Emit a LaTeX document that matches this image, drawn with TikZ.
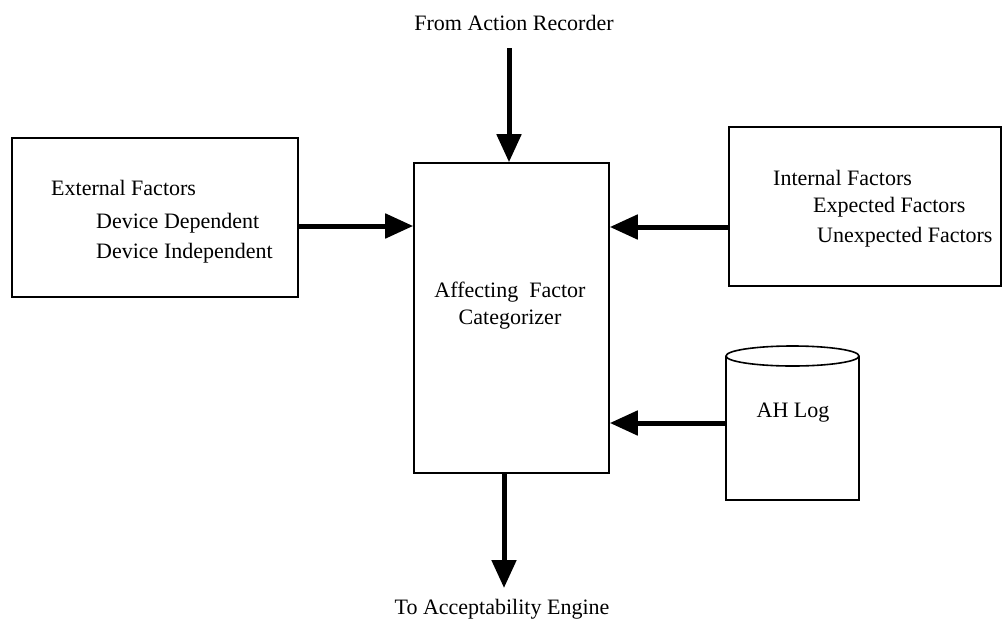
\documentclass[tikz,border=0pt]{standalone}
\usepackage{fontspec}
\setmainfont{Liberation Serif}
\usetikzlibrary{arrows.meta}
\begin{document}
\begin{tikzpicture}[x=1pt,y=-1pt,
  box/.style={draw,line width=1.6pt,inner sep=0pt},
  txt/.style={inner sep=0pt,font=\fontsize{22}{26}\selectfont},
  ltxt/.style={txt,anchor=west},
  flow/.style={line width=5pt,-{Triangle[length=28pt,width=24pt]}}]
\useasboundingbox (0,0) rectangle (1003,621);

% blocks
\node[box,minimum width=286pt,minimum height=159pt] (ext) at (155,217.5) {};
\node[box,minimum width=195pt,minimum height=310pt] (cat) at (511.5,318) {};
\node[box,minimum width=272pt,minimum height=159pt] (int) at (865,206.5) {};

% data log cylinder
\node[inner sep=0pt,minimum width=133pt,minimum height=154pt] (log) at (792.5,423) {};
\draw[line width=1.6pt,fill=white]
  (726,356) -- (726,500) -- (859,500) -- (859,356);
\draw[line width=1.6pt] (792.5,356) ellipse [x radius=66.5, y radius=10];

% texts
\node[ltxt] at (51,188) {External Factors};
\node[ltxt] at (96,223) {Device Dependent};
\node[ltxt] at (96,253) {Device Independent};
\node[ltxt] at (773,178) {Internal Factors};
\node[ltxt] at (813,207) {Expected Factors};
\node[ltxt] at (817,237) {Unexpected Factors};
\node[txt] at (510,292) {Affecting\ \ Factor};
\node[txt] at (510,320) {Categorizer};
\node[txt] at (793,413) {AH Log};
\node[txt] (src) at (514,23) {From Action Recorder};
\node[txt] (dst) at (502,609) {To Acceptability Engine};

% connectors
\coordinate (srcend) at (509,48);
\coordinate (dstend) at (504,588);
\draw[flow] (srcend) -- (srcend |- cat.north);
\draw[flow] ([yshift=-8.5pt]ext.east) -- ([yshift=-8.5pt]ext.east -| cat.west);
\draw[flow] ([yshift=-20.5pt]int.west) -- ([yshift=-20.5pt]int.west -| cat.east);
\draw[flow] (log.west) -- (log.west -| cat.east);
\draw[flow] (cat.south -| dstend) -- (dstend);
\end{tikzpicture}
\end{document}
